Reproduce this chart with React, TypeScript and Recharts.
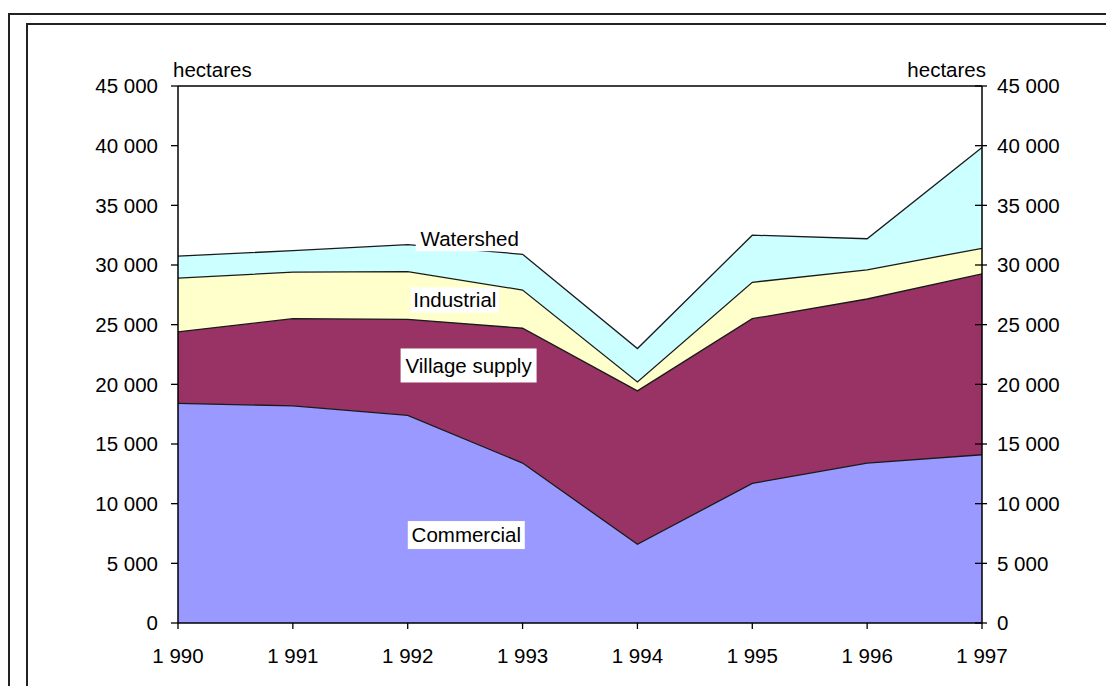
import React from "react";
import { AreaChart, Area, XAxis, YAxis, ReferenceLine, ReferenceDot } from "recharts";

const years = [1990, 1991, 1992, 1993, 1994, 1995, 1996, 1997];
const commercial = [18400, 18200, 17400, 13400, 6600, 11700, 13400, 14100];
const villageSupply = [6000, 7300, 8050, 11300, 12850, 13800, 13750, 15150];
const industrial = [4500, 3900, 4000, 3200, 750, 3050, 2450, 2150];
const watershed = [1850, 1800, 2250, 3000, 2800, 3950, 2600, 8450];
const yTicks = [0, 5000, 10000, 15000, 20000, 25000, 30000, 35000, 40000, 45000];

const seriesLabels = [
  { text: "Watershed", year: 1992.54, value: 32200, w: 108, h: 25 },
  { text: "Industrial", year: 1992.41, value: 27070, w: 88, h: 25 },
  { text: "Village supply", year: 1992.53, value: 21580, w: 136, h: 34 },
  { text: "Commercial", year: 1992.51, value: 7370, w: 117, h: 28 },
];

const data = years.map((year, i) => {
  const c1 = commercial[i];
  const c2 = c1 + villageSupply[i];
  const c3 = c2 + industrial[i];
  const c4 = c3 + watershed[i];
  return { year, c1, c2, c3, c4 };
});

const FONT = "'Liberation Sans', Arial, sans-serif";
const FS = 20.5;

const fmt = (n: number) => {
  if (n < 1000) return String(n);
  const th = Math.floor(n / 1000);
  const rest = String(n % 1000).padStart(3, "0");
  return `${th} ${rest}`;
};

const RIGHT_TICK_SIZE = 5;
const RIGHT_TICK_MARGIN = 10;

const renderRightTick = (props: any) => {
  const { x, y, payload } = props;
  const axisX = x - RIGHT_TICK_SIZE - RIGHT_TICK_MARGIN;
  return (
    <g key={`rt-${payload.value}`}>
      <line x1={axisX - 7} x2={axisX} y1={y} y2={y} stroke="#000" strokeWidth={1.3} />
      <text x={x} y={y} dy="0.355em" textAnchor="start" fontSize={FS} fontFamily={FONT} fill="#000">
        {fmt(payload.value)}
      </text>
    </g>
  );
};

const makeLabelShape = (lbl: { text: string; w: number; h: number }) => (props: any) => {
  const { cx, cy } = props;
  return (
    <g>
      <rect x={cx - lbl.w / 2} y={cy - lbl.h / 2} width={lbl.w} height={lbl.h} fill="#fff" />
      <text x={cx} y={cy} dy="0.355em" textAnchor="middle" fontSize={FS} fontFamily={FONT} fill="#000">
        {lbl.text}
      </text>
    </g>
  );
};

const STROKE = "#1a1a1a";

export default function App() {
  return (
    <div style={{ position: "fixed", left: 0, top: 0, width: 1106, height: 686, overflow: "hidden", background: "#fff" }}>
      <div style={{ position: "absolute", left: 8, top: 13, width: 1300, height: 900, border: "2px solid #222" }} />
      <div style={{ position: "absolute", left: 26, top: 23, width: 1300, height: 900, border: "2px solid #222" }} />
      <div style={{ position: "absolute", left: 0, top: 0 }}>
        <AreaChart width={1106} height={686} data={data} margin={{ top: 86, right: 0, bottom: 0, left: 0 }}>
          <XAxis
            dataKey="year"
            type="number"
            domain={[1990, 1997]}
            ticks={years}
            tickFormatter={fmt}
            height={63}
            tickSize={6}
            tickMargin={19}
            axisLine={{ stroke: "#000", strokeWidth: 1.5 }}
            tickLine={{ stroke: "#000", strokeWidth: 1.3 }}
            tick={{ fontSize: FS, fontFamily: FONT, fill: "#000" }}
            interval={0}
          />
          <YAxis
            yAxisId="left"
            orientation="left"
            width={178}
            domain={[0, 45000]}
            ticks={yTicks}
            tickFormatter={fmt}
            tickSize={7}
            tickMargin={13}
            axisLine={{ stroke: "#000", strokeWidth: 1.5 }}
            tickLine={{ stroke: "#000", strokeWidth: 1.3 }}
            tick={{ fontSize: FS, fontFamily: FONT, fill: "#000" }}
            interval={0}
          />
          <YAxis
            yAxisId="right"
            orientation="right"
            width={124}
            domain={[0, 45000]}
            ticks={yTicks}
            tickSize={RIGHT_TICK_SIZE}
            tickMargin={RIGHT_TICK_MARGIN}
            axisLine={{ stroke: "#000", strokeWidth: 1.5 }}
            tickLine={{ stroke: "#000", strokeWidth: 1.3 }}
            tick={renderRightTick}
            interval={0}
          />
          <Area yAxisId="right" type="linear" dataKey="c4" stroke="none" fill="none" isAnimationActive={false} dot={false} activeDot={false} />
          <Area yAxisId="left" type="linear" dataKey="c4" stroke={STROKE} strokeWidth={1.3} fill="#CCFFFF" fillOpacity={1} isAnimationActive={false} dot={false} activeDot={false} />
          <Area yAxisId="left" type="linear" dataKey="c3" stroke={STROKE} strokeWidth={1.3} fill="#FFFFCC" fillOpacity={1} isAnimationActive={false} dot={false} activeDot={false} />
          <Area yAxisId="left" type="linear" dataKey="c2" stroke={STROKE} strokeWidth={1.3} fill="#993366" fillOpacity={1} isAnimationActive={false} dot={false} activeDot={false} />
          <Area yAxisId="left" type="linear" dataKey="c1" stroke={STROKE} strokeWidth={1.3} fill="#9999FF" fillOpacity={1} isAnimationActive={false} dot={false} activeDot={false} />
          <ReferenceLine yAxisId="left" y={45000} stroke="#000" strokeWidth={1.5} />
          {seriesLabels.map((l) => (
            <ReferenceDot key={l.text} yAxisId="left" x={l.year} y={l.value} r={1} shape={makeLabelShape(l)} />
          ))}
        </AreaChart>
      </div>
      <div style={{ position: "absolute", left: 173, top: 58, fontSize: FS, fontFamily: FONT, color: "#000", lineHeight: "24px" }}>hectares</div>
      <div style={{ position: "absolute", left: 895, top: 58, width: 91, textAlign: "right", fontSize: FS, fontFamily: FONT, color: "#000", lineHeight: "24px" }}>hectares</div>
    </div>
  );
}
